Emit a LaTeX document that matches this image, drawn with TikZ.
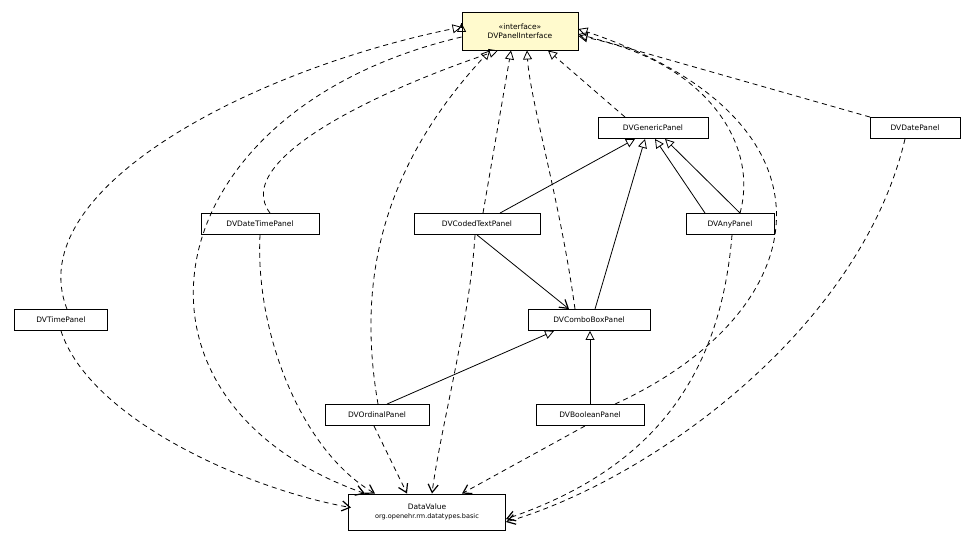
\documentclass[tikz,border=0pt]{standalone}
\usepackage{fontspec}
\setmainfont{DejaVu Sans}
\usetikzlibrary{arrows.meta}
\begin{document}
\begin{tikzpicture}[x=1pt,y=-1pt,
 cls/.style={draw,line width=0.9pt,fill=white,inner sep=0pt,font=\fontsize{7.5}{9}\selectfont},
 real/.style={dashed,dash pattern=on 5pt off 4pt,line width=0.8pt,-{Triangle[open,length=9pt,width=9pt]}},
 gen/.style={line width=0.8pt,-{Triangle[open,length=9pt,width=9pt]}},
 dep/.style={dashed,dash pattern=on 5pt off 4pt,line width=0.8pt,-{Straight Barb[length=8pt,width=10pt,line width=1.2pt]}},
 ass/.style={line width=0.8pt,-{Straight Barb[length=8pt,width=10pt,line width=1.2pt]}}]
\useasboundingbox (0,0) rectangle (976,541);
\node[cls,fill={rgb,255:red,255;green,250;blue,205},minimum width=116pt,minimum height=38pt,align=center] (I) at (520,31) {«interface»\\DVPanelInterface};
\node[cls,minimum width=110pt,minimum height=21pt] (G) at (653,128) {DVGenericPanel};
\node[cls,minimum width=90pt,minimum height=21pt] (D) at (915,128) {DVDatePanel};
\node[cls,minimum width=118pt,minimum height=21pt] (DT) at (260,224) {DVDateTimePanel};
\node[cls,minimum width=126pt,minimum height=21pt] (CT) at (477,224) {DVCodedTextPanel};
\node[cls,minimum width=88pt,minimum height=21pt] (A) at (730,224) {DVAnyPanel};
\node[cls,minimum width=93pt,minimum height=21pt] (T) at (61,320) {DVTimePanel};
\node[cls,minimum width=122pt,minimum height=21pt] (C) at (589,320) {DVComboBoxPanel};
\node[cls,minimum width=104pt,minimum height=21pt] (O) at (377,415) {DVOrdinalPanel};
\node[cls,minimum width=108pt,minimum height=21pt] (B) at (590,415) {DVBooleanPanel};
\node[cls,minimum width=157pt,minimum height=36pt,align=center] (V) at (427,512) {DataValue\\{\fontsize{6.5}{8}\selectfont org.openehr.rm.datatypes.basic}};
% realizations
\draw[real] ([xshift=6pt]T.north) .. controls (20,190) and (250,70) .. ([yshift=4pt]I.west);
\draw[real] ([xshift=10pt]DT.north) .. controls (230,160) and (380,90) .. ([xshift=-22pt]I.south);
\draw[real] ([xshift=1pt]O.north) .. controls (360,300) and (370,180) .. ([xshift=-30pt]I.south);
\draw[real] ([xshift=6pt]CT.north) -- ([xshift=-9pt]I.south);
\draw[real] ([xshift=-14pt]C.north) .. controls (560,200) and (530,100) .. ([xshift=7pt]I.south);
\draw[real] ([xshift=-28pt]G.north) -- ([xshift=28pt]I.south);
\draw[real] ([xshift=10pt]A.north) .. controls (760,140) and (700,60) .. ([yshift=-5pt]I.east);
\draw[real] ([xshift=25pt]B.north) .. controls (820,310) and (850,120) .. ([yshift=2pt]I.east);
\draw[real] ([xshift=-45pt]D.north) -- ([yshift=-3pt]I.east);
% DataValue curve on the left
\draw[dep] ([yshift=-6pt]I.west) .. controls (150,110) and (100,400) .. ([xshift=-62pt]V.north);
\draw[real] ([yshift=8pt]I.west) -- ([yshift=8.01pt]I.west);
% dependencies
\draw[dep] (T.south) .. controls (90,420) and (250,490) .. ([xshift=-76pt,yshift=-14pt]V.north);
\draw[dep] (DT.south) .. controls (255,330) and (300,450) .. ([xshift=-52pt]V.north);
\draw[dep] ([xshift=-3pt]O.south) -- ([xshift=-20pt]V.north);
\draw[dep] ([xshift=-2pt]CT.south) .. controls (470,320) and (440,430) .. ([xshift=5pt]V.north);
\draw[dep] ([xshift=-5pt]B.south) -- ([xshift=35pt]V.north);
\draw[dep] ([xshift=2pt]A.south) .. controls (720,380) and (650,470) .. ([yshift=-7pt]V.east);
\draw[dep] ([xshift=-10pt]D.south) .. controls (860,330) and (650,480) .. ([yshift=-10pt]V.east);
% generalizations
\draw[gen] ([xshift=23pt]CT.north) -- ([xshift=-18pt]G.south);
\draw[gen] ([xshift=6pt]C.north) -- ([xshift=-8pt]G.south);
\draw[gen] ([xshift=-25pt]A.north) -- ([xshift=2pt]G.south);
\draw[gen] ([xshift=10pt]A.north) -- ([xshift=12pt]G.south);
\draw[gen] ([xshift=10pt]O.north) -- ([xshift=-35pt]C.south);
\draw[gen] (B.north) -- ([xshift=1pt]C.south);
\draw[ass] (CT.south) -- ([xshift=-20pt]C.north);
\end{tikzpicture}
\end{document}
